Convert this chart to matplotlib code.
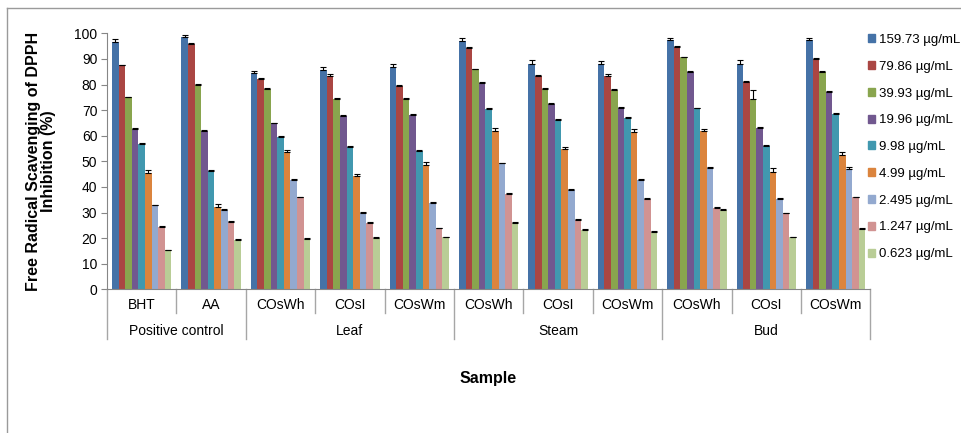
import matplotlib
matplotlib.use("Agg")
import matplotlib.pyplot as plt
from matplotlib.patches import Patch
from matplotlib.lines import Line2D
from matplotlib.transforms import blended_transform_factory
import numpy as np

plt.rcParams['font.family'] = ['Liberation Sans', 'DejaVu Sans']

# samples and their groups
samples = ["BHT", "AA", "COsWh", "COsI", "COsWm", "COsWh", "COsI", "COsWm",
           "COsWh", "COsI", "COsWm"]
groups = ["Positive control", "Leaf", "Steam", "Bud"]
group_sizes = [2, 3, 3, 3]

concentrations = ["159.73 µg/mL", "79.86 µg/mL", "39.93 µg/mL", "19.96 µg/mL",
                  "9.98 µg/mL", "4.99 µg/mL", "2.495 µg/mL", "1.247 µg/mL",
                  "0.623 µg/mL"]

# inhibition (%) per concentration, one value per sample
c159 = [96.7, 98.4, 84.4, 85.7, 86.8, 97.1, 88.2, 88.0, 97.3, 88.2, 97.3]
c79 = [87.5, 95.8, 82.3, 83.5, 79.6, 94.4, 83.3, 83.5, 94.7, 81.0, 90.0]
c39 = [75.0, 79.9, 78.3, 74.5, 74.2, 85.9, 78.4, 78.0, 90.6, 74.3, 84.8]
c19 = [62.8, 62.0, 64.8, 67.8, 68.0, 80.7, 72.3, 70.7, 84.8, 63.2, 77.1]
c9 = [56.9, 46.2, 59.5, 55.6, 54.0, 70.6, 66.1, 66.9, 70.7, 55.9, 68.6]
c4 = [45.6, 32.3, 53.6, 44.1, 48.6, 61.8, 54.7, 61.6, 61.8, 46.0, 52.3]
c2 = [32.8, 30.9, 42.8, 29.9, 33.9, 49.2, 38.9, 42.7, 47.5, 35.4, 47.0]
c1 = [24.3, 26.3, 35.9, 26.0, 23.8, 37.2, 27.1, 35.2, 31.6, 29.7, 35.9]
c06 = [15.2, 19.3, 19.8, 20.0, 20.3, 25.8, 23.3, 22.4, 31.0, 20.3, 23.6]

# standard deviations
e159 = [1.0, 1.0, 1.0, 1.0, 1.2, 1.2, 1.2, 1.0, 1.0, 1.2, 1.0]
e79 = [0.3, 0.3, 0.3, 0.5, 0.3, 0.3, 0.3, 0.5, 0.3, 0.3, 0.3]
e39 = [0.3, 0.3, 0.3, 0.4, 0.5, 0.3, 0.3, 0.3, 0.3, 3.5, 0.3]
e19 = [0.3, 0.3, 0.3, 0.3, 0.5, 0.3, 0.3, 0.5, 0.3, 0.3, 0.3]
e9 = [0.3, 0.3, 0.3, 0.3, 0.3, 0.3, 0.3, 0.5, 0.3, 0.3, 0.3]
e4 = [1.0, 1.0, 1.0, 1.0, 1.0, 1.2, 1.0, 1.2, 1.0, 1.3, 1.2]
e2 = [0.3, 0.5, 0.3, 0.3, 0.3, 0.3, 0.3, 0.3, 0.3, 0.3, 0.6]
e1 = [0.3, 0.3, 0.3, 0.3, 0.3, 0.3, 0.3, 0.3, 0.4, 0.3, 0.3]
e06 = [0.3, 0.3, 0.3, 0.3, 0.3, 0.3, 0.3, 0.3, 0.3, 0.3, 0.3]

series = [c159, c79, c39, c19, c9, c4, c2, c1, c06]
errors = [e159, e79, e39, e19, e9, e4, e2, e1, e06]
colors = ['#4572A7', '#AA4643', '#89A54E', '#71588F', '#4198AF',
          '#DB843D', '#93A9CF', '#D19392', '#B9CD96']

fig = plt.figure(figsize=(9.62, 4.33), dpi=100)
ax = fig.add_axes([107 / 962, 1 - 289.3 / 433, 763.4 / 962, 256 / 433])

n = len(series)
w = 1 / (n + 1.5)
x = np.arange(len(samples)) + 0.5
for j, (vals, errs, col) in enumerate(zip(series, errors, colors)):
    pos = x + (j - (n - 1) / 2) * w
    ax.bar(pos, vals, width=w, color=col, edgecolor='none', zorder=2)
    errs = np.array(errs)
    ax.errorbar(pos, vals, yerr=[np.zeros_like(errs), errs], fmt='none',
                ecolor='black', elinewidth=0.8, capsize=2.5, capthick=0.8,
                zorder=3)

ax.set_xlim(0, len(samples))
ax.set_ylim(0, 100)
ax.set_yticks(range(0, 101, 10))
ax.set_xticks([])
for s in ['top', 'right']:
    ax.spines[s].set_visible(False)
for s in ['left', 'bottom']:
    ax.spines[s].set_color('#868686')
ax.tick_params(axis='y', direction='out', length=4, color='#868686',
               labelsize=10, pad=3)

# two-level category axis
trans = blended_transform_factory(ax.transData, ax.transAxes)
gray = '#A6A6A6'
for i, name in enumerate(samples):
    ax.text(i + 0.5, -0.06, name, transform=trans, ha='center', va='center',
            fontsize=10)
bounds = np.concatenate([[0], np.cumsum(group_sizes)])
for b in range(len(samples) + 1):
    depth = -0.195 if b in bounds else -0.094
    ax.plot([b, b], [0, depth], transform=trans, color=gray, lw=1,
            clip_on=False)
for g, name in enumerate(groups):
    mid = (bounds[g] + bounds[g + 1]) / 2
    ax.text(mid, -0.163, name, transform=trans, ha='center', va='center',
            fontsize=10)

fig.text(41 / 962, 1 - 161 / 433,
         "Free Radical Scavenging of DPPH\nInhibition (%)",
         rotation=90, ha='center', va='center', fontsize=11.5,
         fontweight='bold', linespacing=1.0)
fig.text(488 / 962, 1 - 378 / 433, "Sample", ha='center', va='center',
         fontsize=11.5, fontweight='bold')

handles = [Patch(color=c) for c in colors]
fig.legend(handles, concentrations, loc='upper left',
           bbox_to_anchor=(868 / 962, 1 - 34 / 433), frameon=False,
           fontsize=9.5, handlelength=0.55, handleheight=0.55,
           handletextpad=0.3, labelspacing=1.12, borderaxespad=0,
           borderpad=0)

# outer frame
fig.add_artist(Line2D([7.5 / 962, 7.5 / 962], [0, 1 - 8 / 433],
                      transform=fig.transFigure, color='#9A9A9A', lw=1))
fig.add_artist(Line2D([7.5 / 962, 1], [1 - 8 / 433, 1 - 8 / 433],
                      transform=fig.transFigure, color='#9A9A9A', lw=1))

fig.savefig("out.png", dpi=100)
